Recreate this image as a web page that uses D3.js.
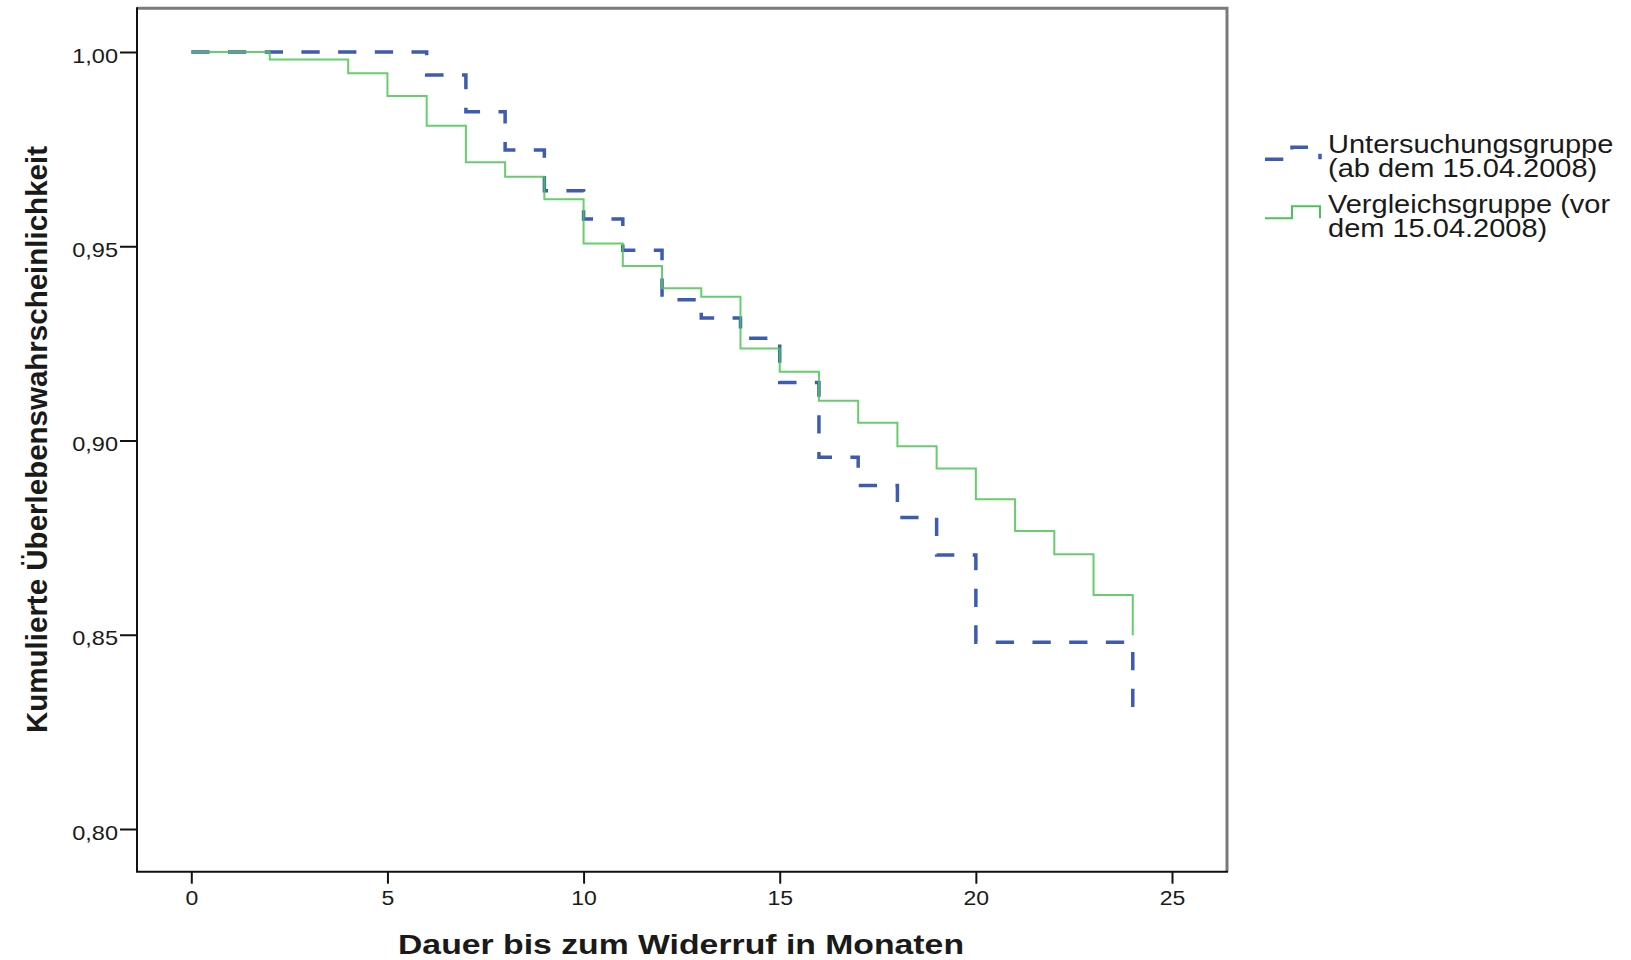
<!DOCTYPE html>
<html>
<head>
<meta charset="utf-8">
<script src="https://cdn.jsdelivr.net/npm/d3@7"></script>
<style>
body { margin: 0; background: #fff; }
text { font-family: "Liberation Sans", Arial, sans-serif; fill: #1a1a1a; }
.axis text { font-size: 21px; }
.axis line { stroke: #111; stroke-width: 2; }
.title { font-weight: bold; font-size: 28px; }
.legend text { font-size: 25px; }
</style>
</head>
<body>
<svg id="chart"></svg>
<script>
// survival per month (0..24), step after each month
var months = d3.range(0, 25);
var untersuchung = [1, 1, 1, 1, 1, 1, 0.9941, 0.9846, 0.9748, 0.9643, 0.9570, 0.9490,
	0.9362, 0.9315, 0.9263, 0.9149, 0.8957, 0.8884, 0.8802, 0.8705, 0.8481, 0.8481,
	0.8481, 0.8481, 0.8314];
var vergleich = [1, 1, 0.9981, 0.9981, 0.9945, 0.9887, 0.9810, 0.9716, 0.9679, 0.9621,
	0.9507, 0.9449, 0.9392, 0.9370, 0.9237, 0.9177, 0.9102, 0.9046, 0.8985, 0.8928,
	0.8849, 0.8767, 0.8707, 0.8602, 0.8499];
var xTicks = [0, 5, 10, 15, 20, 25];
var yTicks = [0.80, 0.85, 0.90, 0.95, 1.00];
var legendLabels = [["Untersuchungsgruppe", "(ab dem 15.04.2008)"],
	["Vergleichsgruppe (vor", "dem 15.04.2008)"]];
var xTitle = "Dauer bis zum Widerruf in Monaten";
var yTitle = "Kumulierte Überlebenswahrscheinlichkeit";

var width = 1631, height = 960;
var frame = {left: 137, right: 1227, top: 8.3, bottom: 871.7};
var blue = "#3d5bb3", green = "#4cc453";
var dash = "18.3,18.4";
var squash = 1.15;

var x = d3.scaleLinear().domain([0, 25]).range([191.3, 1172]);
var y = d3.scaleLinear().domain([0.8, 1.0]).range([829, 52]);

var svg = d3.select("#chart")
.attr("width", width)
.attr("height", height);

function stretch(sel, k) {
	sel.each(function() {
		var w = this.getComputedTextLength();
		d3.select(this).attr("textLength", w*k).attr("lengthAdjust", "spacingAndGlyphs");
	});
}

// frame: grey top/right, black axes left/bottom
svg.append("path")
.attr("d", "M"+frame.left+","+frame.top+" H"+frame.right+" V"+frame.bottom)
.attr("fill", "none").attr("stroke", "#7a7a7a").attr("stroke-width", 3);
svg.append("path")
.attr("d", "M"+frame.left+","+(frame.top-1)+" V"+frame.bottom+" H"+(frame.right+1))
.attr("fill", "none").attr("stroke", "#111").attr("stroke-width", 2);

var yAxis = d3.axisLeft(y)
.tickValues(yTicks)
.tickSize(17)
.tickPadding(2)
.tickFormat(function(d) { return d3.format(".2f")(d).replace(".", ","); });
var gy = svg.append("g")
.attr("class", "axis")
.attr("transform", "translate("+frame.left+",0)")
.call(yAxis);
gy.select(".domain").remove();
gy.selectAll("text").attr("dy", "0.48em").call(stretch, 1.12);

var xAxis = d3.axisBottom(x)
.tickValues(xTicks)
.tickSize(12);
var gx = svg.append("g")
.attr("class", "axis")
.style("font-size", "20px")
.attr("transform", "translate(0,"+frame.bottom+")")
.call(xAxis);
gx.select(".domain").remove();
gx.selectAll("text").attr("y", 33).attr("dy", null).style("font-size", "20px").call(stretch, squash);

// survival curves
var line = d3.line()
.x(function(d) { return x(d[0]); })
.y(function(d) { return y(d[1]); })
.curve(d3.curveStepAfter);

svg.append("path")
.datum(d3.zip(months, untersuchung))
.attr("d", line)
.attr("fill", "none")
.attr("stroke", blue)
.attr("stroke-width", 3.5)
.attr("stroke-dasharray", dash);

svg.append("path")
.datum(d3.zip(months, vergleich))
.attr("d", line)
.attr("fill", "none")
.attr("stroke", green)
.attr("stroke-opacity", 0.85)
.attr("stroke-width", 2);

// titles
svg.append("text")
.attr("class", "title")
.attr("x", 681).attr("y", 954)
.attr("text-anchor", "middle")
.attr("textLength", 566).attr("lengthAdjust", "spacingAndGlyphs")
.text(xTitle);

svg.append("text")
.attr("class", "title")
.style("font-size", "29px")
.attr("transform", "translate(47,439.5) rotate(-90)")
.attr("text-anchor", "middle")
.attr("textLength", 587).attr("lengthAdjust", "spacingAndGlyphs")
.text(yTitle);

// legend
var legend = svg.append("g").attr("class", "legend");
var legendRows = [
	{color: blue, width: 3.5, dash: dash, low: 159.3, lines: legendLabels[0], base: 153},
	{color: green, width: 2, dash: null, low: 218.3, lines: legendLabels[1], base: 213}
];
legendRows.forEach(function(r) {
	legend.append("path")
	.attr("d", "M1265,"+r.low+" H1292 V"+(r.low-12)+" H1320 V"+r.low)
	.attr("fill", "none")
	.attr("stroke", r.color)
	.attr("stroke-width", r.width)
	.attr("stroke-dasharray", r.dash);
	legend.selectAll(null)
	.data(r.lines)
	.enter()
	.append("text")
	.attr("x", 1328)
	.attr("y", function(d, i) { return r.base + i*24.3; })
	.text(function(d) { return d; })
	.call(stretch, 1.16);
});
</script>
</body>
</html>
